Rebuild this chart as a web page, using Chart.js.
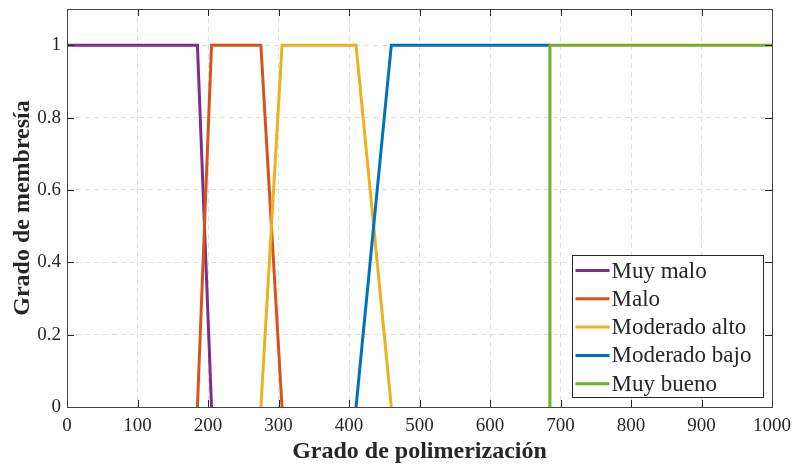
<!DOCTYPE html>
<html>
<head>
<meta charset="utf-8">
<script src="https://cdn.jsdelivr.net/npm/chart.js@4/dist/chart.umd.min.js"></script>
<style>
  html, body { margin: 0; padding: 0; background: #fff; }
  canvas { display: block; }
</style>
</head>
<body>
<canvas id="mfChart" width="795" height="464"></canvas>
<script>
// --- data ---
const seriesNames = ['Muy malo', 'Malo', 'Moderado alto', 'Moderado bajo', 'Muy bueno'];
const seriesColors = ['#7E2F8E', '#D95319', '#EDB120', '#0072BD', '#77AC30'];

const xMuyMalo = [0, 185, 205];
const yMuyMalo = [1, 1, 0];
const xMalo = [185, 205, 275, 305];
const yMalo = [0, 1, 1, 0];
const xModAlto = [275, 305, 410, 460];
const yModAlto = [0, 1, 1, 0];
const xModBajo = [410, 460, 685];
const yModBajo = [0, 1, 1];
const xMuyBueno = [685, 685, 1000];
const yMuyBueno = [0, 1, 1];

const xTicks = [0, 100, 200, 300, 400, 500, 600, 700, 800, 900, 1000];
const yTicks = [0, 0.2, 0.4, 0.6, 0.8, 1];

const serif = "'Liberation Serif', 'Times New Roman', serif";
const ink = '#262626';

const toPoints = (xs, ys) => xs.map((x, i) => ({ x: x, y: ys[i] }));
const seriesPoints = [
    toPoints(xMuyMalo, yMuyMalo),
    toPoints(xMalo, yMalo),
    toPoints(xModAlto, yModAlto),
    toPoints(xModBajo, yModBajo),
    toPoints(xMuyBueno, yMuyBueno)
];

// box around the axes with inward ticks, like the original
const framePlugin = {
    id: 'frame',
    afterDatasetsDraw(chart) {
        const { ctx, chartArea: a, scales } = chart;
        ctx.save();
        ctx.strokeStyle = ink;
        ctx.lineWidth = 1;
        ctx.beginPath();
        xTicks.forEach(v => {
            const px = Math.round(scales.x.getPixelForValue(v)) + 0.5;
            ctx.moveTo(px, a.bottom); ctx.lineTo(px, a.bottom - 7);
            ctx.moveTo(px, a.top); ctx.lineTo(px, a.top + 7);
        });
        yTicks.forEach(v => {
            const py = Math.round(scales.y.getPixelForValue(v)) + 0.5;
            ctx.moveTo(a.left, py); ctx.lineTo(a.left + 7, py);
            ctx.moveTo(a.right, py); ctx.lineTo(a.right - 7, py);
        });
        ctx.stroke();
        ctx.strokeStyle = '#444';
        ctx.strokeRect(Math.round(a.left) + 0.5, Math.round(a.top) + 0.5,
            Math.round(a.right - a.left), Math.round(a.bottom - a.top));
        ctx.restore();
    }
};

// legend box in the lower right corner of the plot
const legendPlugin = {
    id: 'boxLegend',
    afterDraw(chart) {
        const { ctx, chartArea: a } = chart;
        const w = 191, h = 142;
        const left = Math.round(a.right - 9 - w) + 0.5;
        const top = Math.round(a.bottom - 10 - h) + 0.5;
        ctx.save();
        ctx.fillStyle = '#fff';
        ctx.fillRect(left, top, w, h);
        ctx.strokeStyle = ink;
        ctx.lineWidth = 1;
        ctx.strokeRect(left, top, w, h);
        ctx.font = '23px ' + serif;
        ctx.textBaseline = 'middle';
        ctx.textAlign = 'left';
        chart.data.datasets.forEach((ds, i) => {
            const y = top + 15 + i * 28.3;
            ctx.strokeStyle = ds.borderColor;
            ctx.lineWidth = 3;
            ctx.beginPath();
            ctx.moveTo(left + 3, y);
            ctx.lineTo(left + 37, y);
            ctx.stroke();
            ctx.fillStyle = ink;
            ctx.fillText(ds.label, left + 39, y + 1);
        });
        ctx.restore();
    }
};

new Chart(document.getElementById('mfChart'), {
    type: 'scatter',
    data: {
        datasets: seriesNames.map((name, i) => ({
            label: name,
            data: seriesPoints[i],
            showLine: true,
            borderColor: seriesColors[i],
            backgroundColor: seriesColors[i],
            borderWidth: 3,
            pointRadius: 0,
            tension: 0,
            order: seriesNames.length - i
        }))
    },
    options: {
        responsive: false,
        animation: false,
        devicePixelRatio: 1,
        layout: { padding: { top: 9, right: 23, left: 0, bottom: 0 } },
        plugins: { legend: { display: false }, tooltip: { enabled: false } },
        scales: {
            x: {
                type: 'linear',
                min: 0,
                max: 1000,
                afterBuildTicks: s => { s.ticks = xTicks.map(v => ({ value: v })); },
                afterFit: s => { s.height = 57; s.paddingLeft = 0; s.paddingRight = 0; },
                ticks: {
                    color: ink, font: { family: serif, size: 19 }, padding: 8, maxRotation: 0,
                    callback: v => String(v)
                },
                grid: { color: '#dedede', lineWidth: 1, drawTicks: false },
                border: { display: false, dash: [5, 4] },
                title: {
                    display: true,
                    text: 'Grado de polimerización',
                    color: ink,
                    font: { family: serif, size: 24, weight: 'bold', lineHeight: 1 },
                    padding: { top: 0, bottom: 0 }
                }
            },
            y: {
                min: 0,
                max: 1.1,
                afterBuildTicks: s => { s.ticks = yTicks.map(v => ({ value: v })); },
                afterFit: s => { s.width = 67; s.paddingTop = 0; s.paddingBottom = 0; },
                ticks: {
                    color: ink, font: { family: serif, size: 19 }, padding: 6,
                    callback: v => String(v)
                },
                grid: { color: '#dedede', lineWidth: 1, drawTicks: false },
                border: { display: false, dash: [5, 4] },
                title: {
                    display: true,
                    text: 'Grado de membresía',
                    color: ink,
                    font: { family: serif, size: 24, weight: 'bold' },
                    padding: { top: 8, bottom: 0 }
                }
            }
        }
    },
    plugins: [framePlugin, legendPlugin]
});
</script>
</body>
</html>
